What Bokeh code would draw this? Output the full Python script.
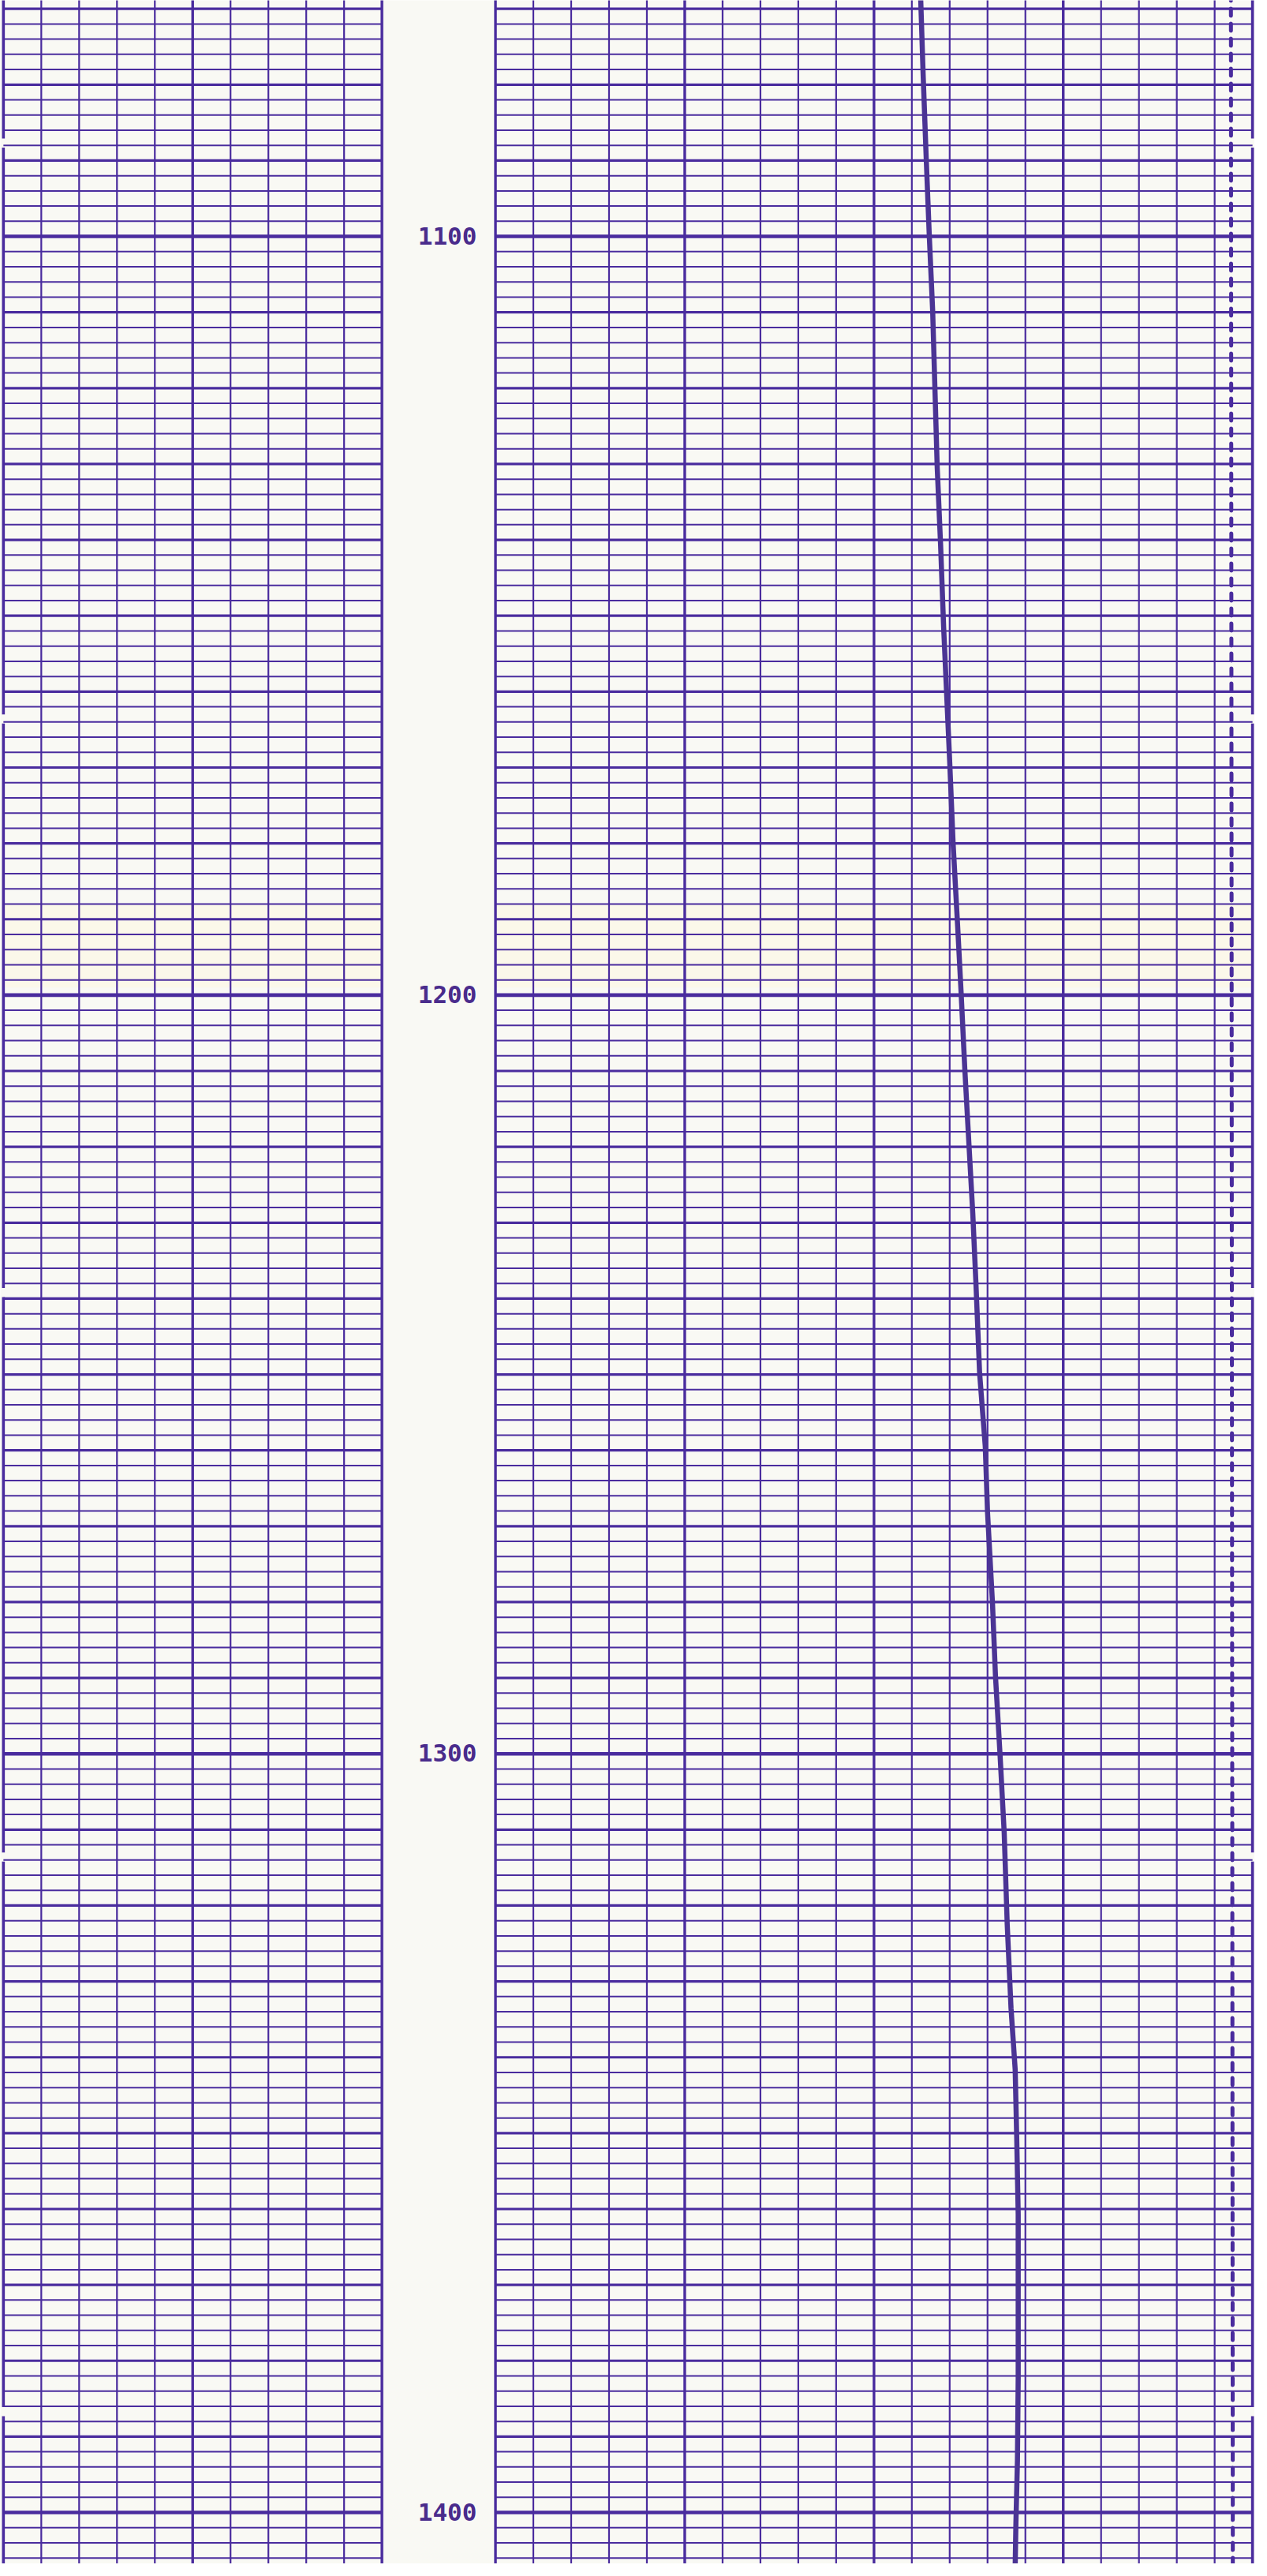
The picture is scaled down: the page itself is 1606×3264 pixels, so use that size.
import numpy as np
from bokeh.plotting import figure
from bokeh.models import Range1d
from bokeh.core.properties import value
from bokeh.embed import file_html
from bokeh.resources import INLINE

# ---------------- data ----------------
depth_labels = [1100, 1200, 1300, 1400]

# solid curve (right track, 0-20 division scale)
curve_depth = [1068.1, 1078.9, 1089.7, 1099.8, 1109.8, 1120.1, 1130.4, 1140.7,
               1151.5, 1169.2, 1180.0, 1190.9, 1199.5, 1209.8, 1220.7, 1228.8,
               1237.6, 1249.8, 1259.5, 1268.2, 1280.1, 1289.8, 1300.1, 1310.4,
               1322.5, 1333.5, 1341.6, 1350.4, 1360.7, 1371.5, 1382.3, 1393.1,
               1401.3, 1407.2]
curve_value = [11.23, 11.30, 11.38, 11.46, 11.55, 11.61, 11.67, 11.76,
               11.84, 12.00, 12.09, 12.21, 12.30, 12.40, 12.52, 12.61,
               12.69, 12.79, 12.94, 13.00, 13.13, 13.21, 13.33, 13.44,
               13.52, 13.62, 13.73, 13.77, 13.81, 13.81, 13.81, 13.79,
               13.75, 13.73]

# dashed curve (right track)
dash_depth = [1068.0, 1408.0]
dash_value = [19.43, 19.48]

# paper fold positions (breaks in the outer border)
fold_depths = [1087.7, 1163.6, 1239.2, 1313.6, 1386.7]

# ---------------- layout constants ----------------
TOP, BOTTOM = 1068.89, 1406.76
X0, X1 = -0.08, 33.06
LEFT_DIVS = 10
RIGHT_OFF = 13
RIGHT_DIVS = 20
INK = "#4a2c9e"
CURVE = "#4b3494"
PAPER = "#f9f9f4"

p = figure(width=1590, height=3248, x_range=Range1d(X0, X1),
           y_range=Range1d(BOTTOM, TOP), output_backend="svg",
           toolbar_location=None, min_border=0,
           x_axis_location=None, y_axis_location=None)
p.grid.visible = False
p.outline_line_color = None
p.background_fill_color = PAPER
p.border_fill_color = PAPER

# faint yellowish band of the scanned paper
for l, r in [(0, LEFT_DIVS), (RIGHT_OFF, RIGHT_OFF + RIGHT_DIVS)]:
    p.quad(left=[l], right=[r], top=[1188.0], bottom=[1199.0],
           fill_color="#fbf8ea", line_color=None)

# ---------------- horizontal grid ----------------
d_all = np.arange(1068, 1410, 2)
tracks = [(0, LEFT_DIVS), (RIGHT_OFF, RIGHT_OFF + RIGHT_DIVS)]
for kind in ["minor", "ten", "hundred"]:
    if kind == "minor":
        ds = [d for d in d_all if d % 10 != 0]
        w = 2.0
    elif kind == "ten":
        ds = [d for d in d_all if d % 10 == 0 and d % 100 != 0]
        w = 3.2
    else:
        ds = [d for d in d_all if d % 100 == 0]
        w = 4.6
    x0s, x1s, ys = [], [], []
    for (l, r) in tracks:
        for d in ds:
            x0s.append(l); x1s.append(r); ys.append(d)
    p.segment(x0=x0s, x1=x1s, y0=ys, y1=ys, line_color=INK, line_width=w,
              line_cap="butt")

# ---------------- vertical grid ----------------
minor_x, heavy_x = [], []
for i in range(1, LEFT_DIVS):
    (heavy_x if i % 5 == 0 else minor_x).append(i)
for i in range(1, RIGHT_DIVS):
    (heavy_x if i % 5 == 0 else minor_x).append(RIGHT_OFF + i)
p.segment(x0=minor_x, x1=minor_x, y0=[1060] * len(minor_x), y1=[1410] * len(minor_x),
          line_color=INK, line_width=2.2)
p.segment(x0=heavy_x, x1=heavy_x, y0=[1060] * len(heavy_x), y1=[1410] * len(heavy_x),
          line_color=INK, line_width=3.4)

# inner borders (continuous)
inner = [LEFT_DIVS, RIGHT_OFF]
p.segment(x0=inner, x1=inner, y0=[1060, 1060], y1=[1410, 1410],
          line_color=INK, line_width=3.4)

# outer borders, broken at the paper folds
edges = [1060] + sum([[f - 0.6, f + 0.6] for f in fold_depths], []) + [1410]
y0s = edges[0::2]
y1s = edges[1::2]
for xb in [0, RIGHT_OFF + RIGHT_DIVS]:
    p.segment(x0=[xb] * len(y0s), x1=[xb] * len(y0s), y0=y0s, y1=y1s,
              line_color=INK, line_width=3.6)

# ---------------- curves ----------------
p.line(x=[RIGHT_OFF + v for v in dash_value], y=dash_depth, line_color=INK,
       line_width=5, line_dash="9 10", line_cap="round")
p.line(x=[RIGHT_OFF + v for v in curve_value], y=curve_depth, line_color=CURVE,
       line_width=6.5, line_join="round", line_cap="round")

# ---------------- depth labels ----------------
p.text(x=[11.73] * len(depth_labels), y=depth_labels,
       text=[str(d) for d in depth_labels],
       text_font=value("DejaVu Sans Mono"), text_font_style="bold",
       text_font_size="31px", text_color="#4a2c8c",
       text_align="center", text_baseline="alphabetic", y_offset=-1)

open("out.html", "w").write(file_html(p, INLINE))
